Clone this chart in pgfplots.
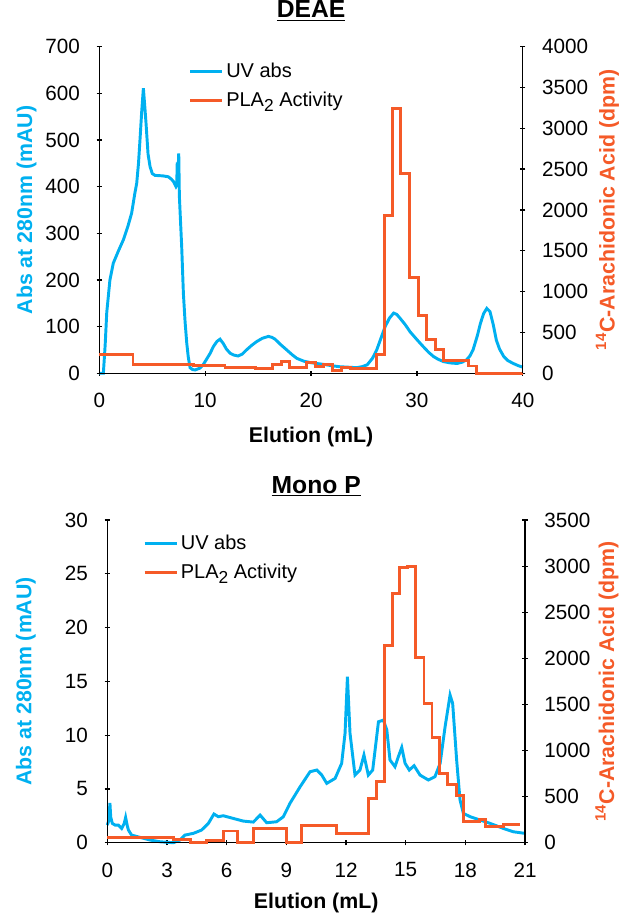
\documentclass[border=0pt]{standalone}
\usepackage{fontspec}
\setmainfont{Liberation Sans}
\usepackage{pgfplots}
\pgfplotsset{compat=1.18}
\definecolor{uvblue}{RGB}{0,176,240}
\definecolor{plaorange}{RGB}{245,90,40}

\pgfplotstableread{
x y
0 0
0.38 0
0.55 60
0.7 130
1.0 200
1.32 236
1.8 262
2.27 286
2.7 315
3.05 343
3.35 385
3.53 407
3.7 450
3.84 500
4.0 560
4.16 611
4.3 570
4.41 536
4.6 470
4.79 443
5.0 428
5.26 424
6.0 423
6.52 421
6.8 416
7.0 411
7.24 400
7.31 403
7.36 452
7.42 420
7.5 471
7.56 380
7.66 330
7.78 271
7.94 171
8.1 110
8.26 64
8.4 35
8.57 12
8.8 8
9.04 7
9.5 11
9.8 18
10.1 29
10.45 42
10.77 57
11.1 68
11.4 73
11.7 64
12.0 52
12.35 43
12.7 39
13.1 37
13.5 41
13.9 50
14.4 60
14.87 68
15.4 75
15.97 79
16.3 77
16.6 73
17.1 62
17.7 50
18.2 40
18.65 32
19.3 26
19.9 23
20.5 21
21.2 19
22.0 16
22.7 14
23.5 13
24.3 12
24.8 14
25.3 18
25.8 32
26.2 50
26.6 75
27.0 100
27.4 118
27.8 129
28.1 126
28.4 118
28.9 104
29.35 89
30.0 72
30.6 57
31.1 45
31.56 36
32.0 30
32.5 25
33.2 22
33.8 21
34.3 24
34.7 29
35.0 37
35.3 50
35.7 80
36.0 107
36.3 128
36.6 139
36.9 132
37.2 105
37.5 71
37.8 52
38.2 36
38.6 27
39.1 21
39.6 16
40 13
}\deaeuv

\pgfplotstableread{
x y
0 225
3.18 102
8.88 90
11.87 73
14.71 53
16.38 102
17.23 139
17.95 73
19.59 131
20.38 82
21.17 102
22.05 33
22.9 73
23.69 61
26.14 235
26.9 1927
27.72 3245
28.47 2450
29.33 1171
30.14 704
30.93 408
31.72 286
32.5 160
34.86 89
35.65 0
40 0
}\deaepla

\pgfplotstableread{
x y
0 1.64
0.08 2.1
0.13 3.7
0.17 2.4
0.25 1.8
0.39 1.64
0.55 1.64
0.72 1.33
0.85 1.8
0.92 2.35
1.0 1.6
1.06 1.18
1.22 0.71
1.64 0.5
2.15 0.25
2.65 0.09
3.32 0
3.65 0.25
3.9 0.71
4.32 0.87
4.74 1.18
5.08 1.8
5.36 2.67
5.58 2.42
5.83 2.51
6.33 2.26
6.84 2.01
7.34 1.92
7.68 2.57
8.01 1.86
8.51 1.95
8.85 2.42
9.18 3.66
9.69 5.2
10.19 6.6
10.53 6.76
10.78 6.29
11.03 5.52
11.45 5.98
11.78 7.38
11.95 10.17
12.07 15.43
12.2 10.17
12.45 6.29
12.7 6.76
12.9 8.15
13.12 6.29
13.34 6.76
13.63 11.25
13.88 11.4
14.05 10.48
14.21 7.69
14.46 7.07
14.63 8.0
14.8 8.86
14.97 7.38
15.18 6.76
15.42 7.16
15.72 6.29
16.14 5.83
16.47 6.14
16.73 7.38
16.98 10.79
17.23 13.73
17.36 12.95
17.56 7.69
17.73 3.97
17.9 2.73
18.24 2.42
18.74 2.11
19.24 1.8
19.91 1.33
20.41 1.02
21 0.87
}\monouv

\pgfplotstableread{
x y
0 58
3.32 36
4.16 0
4.99 29
5.83 127
6.55 0
7.37 155
9.02 0
9.77 186
11.53 104
13.12 481
13.54 669
13.91 2144
14.33 2700
14.71 2983
15.1 2994
15.5 2010
15.92 1511
16.32 1139
16.69 752
17.11 633
17.53 517
17.9 228
18.7 255
19.03 174
19.9 201
20.75 201
}\monopla

\pgfplotsset{
  base/.style={
    scale only axis, clip=false,
    tick align=outside, major tick length=4pt,
    tick style={black, line width=0.9pt},
    ticklabel style={font=\fontsize{15.5}{18}\selectfont},
    /pgf/number format/assume math mode=true,
    /pgf/number format/1000 sep={},
    scaled ticks=false,
    minor tick num=0,
  },
  leftax/.style={base, axis x line=bottom, axis y line=left,
    axis line style={draw=none},
    extra description/.code={
      \draw[black, line width=1pt] (0,1) -- (0,0) -- (1,0);
    },
    xticklabel style={yshift=-9.5pt},
    yticklabel style={xshift=-9pt},
    xlabel={Elution (mL)},
    xlabel style={font=\fontsize{16}{19}\selectfont\bfseries, anchor=center},
    ylabel={Abs at 280nm (mAU)},
    ylabel style={font=\fontsize{16}{19}\selectfont\bfseries, color=uvblue, anchor=center},
    legend cell align=left,
    legend image code/.code={\draw[##1, line width=2.3pt] (0pt,0pt) -- (24pt,0pt);},
    legend style={draw=none, fill=none, font=\fontsize{15}{18}\selectfont, row sep=5.5pt, inner sep=0pt, anchor=north west},
  },
  rightax/.style={base, axis x line=none, axis y line=right,
    axis line style={draw=none},
    extra description/.code={
      \draw[black, line width=1pt] (1,0) -- (1,1);
    },
    yticklabel style={xshift=9pt},
    ylabel={\textsuperscript{14}C-Arachidonic Acid (dpm)},
    ylabel style={font=\fontsize{16}{19}\selectfont\bfseries, color=plaorange, anchor=center},
  },
}

\begin{document}
\begin{tikzpicture}
\useasboundingbox (0,0) rectangle (468.75pt,687.75pt);

% ---------------- DEAE ----------------
\begin{axis}[leftax, at={(74.5pt,407.8pt)}, anchor=south west,
  width=317.6pt, height=245pt,
  xmin=0, xmax=40, ymin=0, ymax=700,
  xtick={0,10,20,30,40}, ytick={0,100,...,700},
  xlabel style={at={(axis description cs:0.5,-0.195)}},
  ylabel style={at={(axis description cs:-0.172,0.5)}},
  title={\underline{DEAE}},
  title style={font=\fontsize{18.5}{22}\selectfont\bfseries, at={(axis description cs:0.5,1.085)}, anchor=center},
  legend style={at={(axis description cs:0.21,0.958)}},
]
\addplot[uvblue, line width=2.2pt] table[x=x,y=y]{\deaeuv};
\addlegendentry{UV abs}
\addlegendimage{plaorange}
\addlegendentry{PLA\raisebox{-0.45ex}{\fontsize{13}{13}\selectfont 2} Activity}
\end{axis}
\begin{axis}[rightax, at={(74.5pt,407.8pt)}, anchor=south west,
  width=317.6pt, height=245pt,
  xmin=0, xmax=40, ymin=0, ymax=4000,
  ytick={0,500,...,4000},
  ylabel style={at={(axis description cs:1.20,0.5)}},
]
\addplot[plaorange, line width=2.2pt, const plot] table[x=x,y=y]{\deaepla};
\end{axis}

% ---------------- Mono P ----------------
\begin{axis}[leftax, at={(80.5pt,55.7pt)}, anchor=south west,
  width=313.3pt, height=242pt,
  xmin=0, xmax=21, ymin=0, ymax=30,
  xtick={0,3,...,21}, ytick={0,5,...,30},
  xlabel style={at={(axis description cs:0.5,-0.187)}},
  ylabel style={at={(axis description cs:-0.195,0.5)}},
  title={\underline{Mono P}},
  title style={font=\fontsize{18.5}{22}\selectfont\bfseries, at={(axis description cs:0.5,1.08)}, anchor=center},
  legend style={at={(axis description cs:0.085,0.962)}},
]
\addplot[uvblue, line width=2.2pt] table[x=x,y=y]{\monouv};
\addlegendentry{UV abs}
\addlegendimage{plaorange}
\addlegendentry{PLA\raisebox{-0.45ex}{\fontsize{13}{13}\selectfont 2} Activity}
\end{axis}
\begin{axis}[rightax, at={(80.5pt,55.7pt)}, anchor=south west,
  width=313.3pt, height=242pt,
  xmin=0, xmax=21, ymin=0, ymax=3500,
  ytick={0,500,...,3500},
  ylabel style={at={(axis description cs:1.196,0.5)}},
]
\addplot[plaorange, line width=2.2pt, const plot] table[x=x,y=y]{\monopla};
\end{axis}
\end{tikzpicture}
\end{document}
